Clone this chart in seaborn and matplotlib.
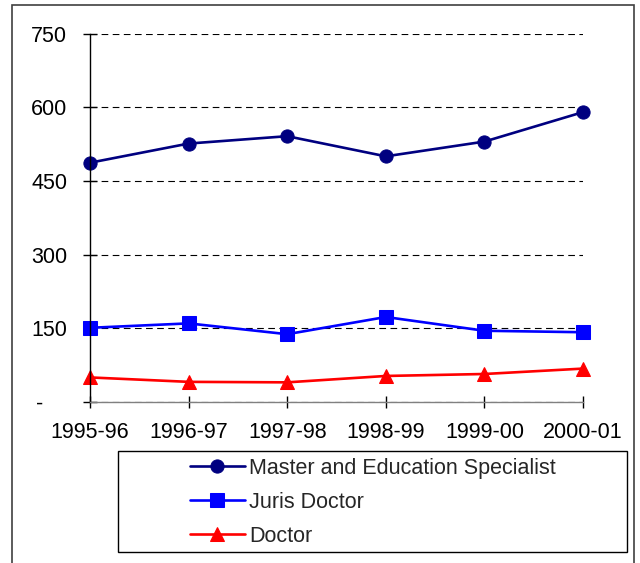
import matplotlib
matplotlib.use("Agg")
import matplotlib.pyplot as plt
import seaborn as sns
import pandas as pd
from matplotlib.patches import Rectangle

years = ["1995-96", "1996-97", "1997-98", "1998-99", "1999-00", "2000-01"]
master = [487, 526, 541, 500, 530, 590]
juris = [151, 160, 138, 173, 145, 142]
doctor = [50, 41, 40, 53, 57, 68]
series_names = ["Master and Education Specialist", "Juris Doctor", "Doctor"]
ytick_vals = [0, 150, 300, 450, 600, 750]
ytick_labels = ["-    ", "150", "300", "450", "600", "750"]

df = pd.DataFrame({
    "Year": years * 3,
    "Value": master + juris + doctor,
    "Series": [series_names[0]] * 6 + [series_names[1]] * 6 + [series_names[2]] * 6,
})

sns.set_style("white")
plt.rcParams["font.family"] = ["Liberation Sans", "DejaVu Sans"]

W, H = 640, 563
FS = 15.5
fig = plt.figure(figsize=(W / 100, H / 100), dpi=100)
ax = fig.add_axes([90 / W, 1 - 402 / H, 493 / W, (402 - 33.5) / H])

palette = {series_names[0]: "#000080", series_names[1]: "#0000FF", series_names[2]: "#FF0000"}
markers = {series_names[0]: "o", series_names[1]: "s", series_names[2]: "^"}

sns.lineplot(data=df, x="Year", y="Value", hue="Series", style="Series",
             hue_order=series_names, style_order=series_names,
             palette=palette, markers=markers, dashes=False, sort=False,
             linewidth=1.9, markersize=9.5, ax=ax, legend=True)

for ln in ax.lines:
    ln.set_markeredgecolor(ln.get_color())
    ln.set_clip_on(False)

handles, labels = ax.get_legend_handles_labels()
ax.get_legend().remove()
for h in handles:
    h.set_markeredgecolor(h.get_color())

ax.set_xlim(0, 5)
ax.set_ylim(0, 750)
ax.set_yticks(ytick_vals)
ax.set_yticklabels(ytick_labels)
ax.set_xlabel("")
ax.set_ylabel("")

ax.yaxis.grid(True, color="black", linestyle=(0, (6, 4)), linewidth=0.8)
ax.xaxis.grid(False)
ax.set_axisbelow(True)
for s in ["top", "right"]:
    ax.spines[s].set_visible(False)
ax.spines["left"].set_color("black")
ax.spines["left"].set_linewidth(1.0)
ax.spines["bottom"].set_color("#808080")
ax.spines["bottom"].set_linewidth(1.0)

ax.tick_params(axis="y", direction="inout", length=10, width=1, color="black",
               pad=11.5, labelsize=FS, labelcolor="black", left=True)
ax.tick_params(axis="x", direction="inout", length=8, width=1, color="black",
               pad=10.5, labelsize=FS, labelcolor="black", bottom=True)

# Legend box
fig.patches.append(Rectangle((118 / W, 1 - 552 / H), 509 / W, 101 / H,
                             transform=fig.transFigure, fill=False,
                             edgecolor="black", linewidth=1.0))
fig.legend(handles, labels, loc="upper left",
           bbox_to_anchor=(190 / W, 1 - 458 / H), bbox_transform=fig.transFigure,
           frameon=False, borderpad=0, borderaxespad=0, fontsize=FS,
           handlelength=2.55, handletextpad=0.2, labelspacing=0.6, numpoints=1)

# Outer chart border
fig.patches.append(Rectangle((11.5 / W, -0.02), (634 - 11.5) / W, 1.02 - 5 / H,
                             transform=fig.transFigure, fill=False,
                             edgecolor="#404040", linewidth=1.2))

fig.savefig("out.png", dpi=100)
